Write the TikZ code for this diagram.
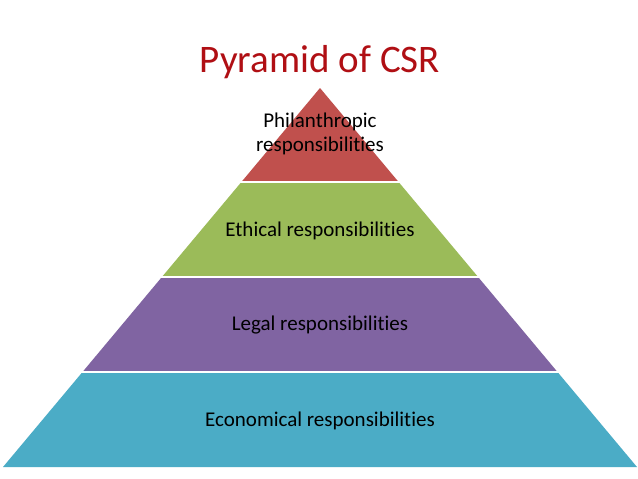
\documentclass[tikz,border=0pt]{standalone}
\usepackage{fontspec}
\setmainfont[Ligatures={NoCommon}]{Carlito}
\definecolor{csrred}{HTML}{C0504D}
\definecolor{csrgreen}{HTML}{9BBB59}
\definecolor{csrpurple}{HTML}{8064A2}
\definecolor{csrblue}{HTML}{4BACC6}
\definecolor{titlered}{HTML}{B00F14}
\begin{document}
\begin{tikzpicture}[x=1pt,y=-1pt,
  layerlabel/.style={font=\fontsize{21}{24}\selectfont, text=black, align=center},
  sep/.style={draw=white, line width=2.5pt}]
\useasboundingbox (0,0) rectangle (638,479);
\fill[white] (0,0) rectangle (638,479);
% layers
\fill[csrblue] (3,467) -- (637,467) -- (557.5,372) -- (82.5,372) -- cycle;
\fill[csrpurple] (82.5,372) -- (557.5,372) -- (478.1,277) -- (161.9,277) -- cycle;
\fill[csrgreen] (161.9,277) -- (478.1,277) -- (398.6,182) -- (241.4,182) -- cycle;
\fill[csrred] (241.4,182) -- (398.6,182) -- (320,88) -- cycle;
\draw[sep] (0,372) -- (638,372);
\draw[sep] (0,277) -- (638,277);
\draw[sep] (0,182) -- (638,182);
% title
\node[font=\fontsize{39}{44}\selectfont, text=titlered] (title) at (320,62) {Pyramid of CSR};
% labels
\node[layerlabel] (phil) at (320,134) {Philanthropic\\responsibilities};
\node[layerlabel] (eth) at (320,230.5) {Ethical responsibilities};
\node[layerlabel] (leg) at (320,325.5) {Legal responsibilities};
\node[layerlabel] (eco) at (320,420.5) {Economical responsibilities};
\end{tikzpicture}
\end{document}
